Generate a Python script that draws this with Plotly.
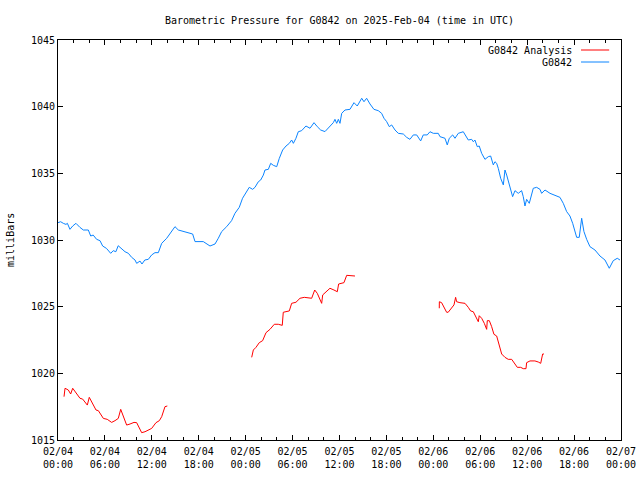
import plotly.graph_objects as go

# Hours since 2025-02-04 00:00 UTC
obs_hours = [0.0, 0.34, 0.68, 1.02, 1.2, 1.53, 1.88, 2.3, 2.8, 3.24, 3.88, 4.18, 4.5, 4.94, 5.37, 5.71,
             6.2, 6.74, 7.07, 7.4, 7.7, 8.14, 8.57, 9.0, 9.42, 9.85, 10.06, 10.49, 10.74, 11.1, 11.55,
             11.98, 12.4, 12.83, 13.26, 13.9, 14.45, 14.96, 15.39, 16.24, 16.88, 17.22, 17.52, 18.58,
             19.44, 20.08, 20.5, 20.93, 21.57, 22.2, 22.63, 23.18, 23.6, 24.04, 24.46, 24.89, 25.19,
             25.62, 25.92, 26.26, 26.47, 26.9, 27.2, 27.54, 27.97, 28.3, 28.73, 29.16, 29.58, 29.88,
             30.1, 30.43, 30.73, 31.16, 31.71, 32.23, 32.74, 33.16, 33.59, 34.14, 34.44, 34.78, 35.21,
             35.42, 35.64, 35.85, 36.06, 36.28, 36.7, 37.34, 37.68, 37.85, 38.27, 38.84, 39.13, 39.47,
             39.9, 40.4, 40.96, 41.39, 41.69, 42.03, 42.37, 42.67, 43.1, 43.52, 44.16, 44.59, 45.01,
             45.44, 45.87, 46.38, 46.71, 47.22, 47.57, 48.0, 48.63, 48.85, 49.49, 49.78, 50.04, 50.47,
             50.77, 51.19, 51.83, 52.05, 52.47, 52.9, 53.11, 53.32, 53.62, 53.87, 54.18, 54.6, 55.03,
             55.33, 55.67, 55.88, 56.1, 56.31, 56.61, 56.95, 57.16, 57.38, 57.8, 58.14, 58.44, 58.86,
             59.29, 59.5, 59.72, 59.93, 60.27, 60.78, 61.21, 61.64, 61.85, 62.28, 62.92, 63.55, 64.19,
             64.62, 65.05, 65.47, 65.82, 66.33, 66.66, 66.97, 67.26, 67.61, 68.03, 68.67, 69.31,
             69.95, 70.5, 71.01, 71.52, 71.87]
obs_mb = [1031.3, 1031.37, 1031.25, 1031.17, 1031.25, 1030.8, 1031.05, 1031.25, 1030.95, 1030.75,
          1030.75, 1030.3, 1030.37, 1030.05, 1029.95, 1029.55, 1029.37, 1029.0, 1029.2, 1029.12,
          1029.57, 1029.37, 1029.12, 1029.0, 1028.7, 1028.5, 1028.25, 1028.42, 1028.2, 1028.5,
          1028.55, 1028.88, 1029.05, 1029.05, 1029.75, 1030.13, 1030.63, 1031.0, 1030.75, 1030.63,
          1030.5, 1030.45, 1029.88, 1029.88, 1029.55, 1029.7, 1030.13, 1030.63, 1031.0, 1031.45,
          1032.0, 1032.45, 1033.13, 1033.5, 1033.95, 1033.8, 1033.95, 1034.37, 1034.5, 1034.87,
          1035.25, 1035.3, 1035.75, 1035.6, 1035.5, 1036.12, 1036.75, 1037.05, 1037.25, 1037.5,
          1037.25, 1037.63, 1038.12, 1038.2, 1038.55, 1038.38, 1038.8, 1038.5, 1038.25, 1038.13,
          1038.3, 1038.55, 1038.8, 1039.05, 1038.75, 1039.05, 1038.75, 1039.5, 1039.75, 1039.8,
          1040.13, 1040.3, 1040.05, 1040.63, 1040.37, 1040.63, 1040.2, 1039.8, 1039.7, 1039.5,
          1039.13, 1038.88, 1038.5, 1038.63, 1038.25, 1038.0, 1037.95, 1037.7, 1037.55, 1037.88,
          1037.88, 1037.43, 1037.88, 1037.88, 1038.12, 1038.0, 1038.0, 1037.75, 1037.63, 1037.13,
          1037.63, 1037.88, 1037.63, 1038.0, 1038.12, 1037.88, 1037.5, 1037.55, 1037.37, 1037.5,
          1037.0, 1037.05, 1036.5, 1036.05, 1036.25, 1036.3, 1035.63, 1035.87, 1035.75, 1035.37,
          1034.63, 1034.13, 1035.25, 1034.87, 1034.0, 1033.25, 1033.7, 1033.5, 1033.7, 1033.25,
          1032.55, 1033.05, 1032.75, 1033.88, 1033.95, 1033.8, 1033.5, 1033.75, 1033.5, 1033.38,
          1033.2, 1032.75, 1032.13, 1031.8, 1031.25, 1030.2, 1030.2, 1031.63, 1030.63, 1030.05,
          1029.5, 1029.25, 1028.8, 1028.5, 1027.88, 1028.45, 1028.63, 1028.5]

ana_hours = [0.77, 0.9, 1.32, 1.62, 1.88, 2.3, 2.81, 3.15, 3.75, 4.0, 4.3, 4.86, 5.16, 5.8, 6.3, 6.86,
             7.29, 7.71, 8.02, 8.27, 8.78, 9.21, 9.72, 10.06, 10.7, 11.13, 11.55, 11.98, 12.53, 12.96,
             13.26, 13.68, 13.98, None,
             24.77, 24.98, 25.32, 25.74, 26.17, 26.6, 27.11, 27.66, 28.17, 28.68, 28.81, 29.58, 29.88,
             30.43, 30.95, 31.5, 32.44, 32.83, 33.16, 33.5, 33.72, 33.85, 34.36, 34.78, 35.29, 35.72,
             35.89, 36.57, 36.92, 37.34, 37.98, None,
             48.76, 48.77, 49.06, 49.36, 49.7, 49.9, 50.34, 50.64, 50.85, 50.98, 51.4, 52.05, 52.47,
             52.77, 53.11, 53.45, 53.75, 53.87, 54.18, 54.52, 54.82, 54.9, 55.16, 55.46, 55.75, 56.1,
             56.31, 56.52, 56.74, 57.16, 57.58, 58.02, 58.44, 58.74, 59.17, 59.5, 59.85, 59.93, 60.36,
             60.99, 61.42, 61.73, 61.98, 62.15]
ana_mb = [1018.25, 1018.88, 1018.75, 1018.45, 1018.88, 1018.55, 1018.13, 1018.07, 1017.62, 1018.2,
          1017.87, 1017.25, 1017.2, 1016.62, 1016.55, 1016.32, 1016.45, 1016.62, 1017.3, 1016.87,
          1016.12, 1016.2, 1016.32, 1016.3, 1015.55, 1015.62, 1015.75, 1015.87, 1016.3, 1016.45,
          1016.75, 1017.5, 1017.55, None,
          1021.2, 1021.75, 1021.95, 1022.3, 1022.45, 1023.05, 1023.3, 1023.68, 1023.68, 1023.6,
          1024.58, 1024.68, 1025.25, 1025.33, 1025.63, 1025.7, 1025.63, 1026.25, 1026.0, 1025.45,
          1025.25, 1025.88, 1026.12, 1026.38, 1026.25, 1026.12, 1026.7, 1026.8, 1027.35, 1027.35,
          1027.3, None,
          1024.88, 1025.37, 1025.3, 1025.0, 1024.58, 1024.58, 1024.88, 1025.13, 1025.7, 1025.37,
          1025.3, 1025.25, 1024.95, 1024.68, 1024.62, 1024.25, 1023.87, 1024.32, 1024.13, 1023.75,
          1023.3, 1023.95, 1023.95, 1023.5, 1022.93, 1022.8, 1022.37, 1021.75, 1021.45, 1021.2,
          1021.05, 1021.05, 1020.75, 1020.45, 1020.45, 1020.35, 1020.35, 1020.8, 1020.93, 1020.93,
          1020.85, 1020.75, 1021.45, 1021.45]

tick_hours = [0, 6, 12, 18, 24, 30, 36, 42, 48, 54, 60, 66, 72]
tick_labels = ["02/04<br>00:00", "02/04<br>06:00", "02/04<br>12:00", "02/04<br>18:00",
               "02/05<br>00:00", "02/05<br>06:00", "02/05<br>12:00", "02/05<br>18:00",
               "02/06<br>00:00", "02/06<br>06:00", "02/06<br>12:00", "02/06<br>18:00",
               "02/07<br>00:00"]
legend_names = ["G0842 Analysis", "G0842"]
RED = "#ff0000"
BLUE = "#0a84ff"
FONT = "DejaVu Sans Mono"

fig = go.Figure()
fig.add_trace(go.Scatter(x=ana_hours, y=ana_mb, mode="lines", name=legend_names[0],
                         line=dict(color=RED, width=1), connectgaps=False))
fig.add_trace(go.Scatter(x=obs_hours, y=obs_mb, mode="lines", name=legend_names[1],
                         line=dict(color=BLUE, width=1)))

axis_common = dict(showline=True, linecolor="black", linewidth=1, mirror="ticks",
                   ticks="inside", tickcolor="black", showgrid=False, zeroline=False,
                   automargin=False,
                   tickfont=dict(family=FONT, size=10, color="black"))

fig.update_xaxes(range=[0, 72], tickmode="array", tickvals=tick_hours, ticktext=tick_labels,
                 ticklen=5, ticklabelstandoff=2,
                 minor=dict(dtick=2, tick0=0, ticks="inside", ticklen=3, tickcolor="black"),
                 **axis_common)
fig.update_yaxes(range=[1015, 1045], tickmode="linear", tick0=1015, dtick=5, ticklen=5,
                 minor=dict(ticks=""), **axis_common)

# legend drawn gnuplot-style (text left of sample line)
leg_y = [0.975, 0.945]
for name, color, yy in zip(legend_names, [RED, BLUE], leg_y):
    fig.add_annotation(x=0.9165, y=yy, xref="paper", yref="paper", text=name, showarrow=False,
                       xanchor="right", yanchor="middle",
                       font=dict(family=FONT, size=10, color="black"))
    fig.add_shape(type="line", xref="paper", yref="paper", x0=0.929, x1=0.979, y0=yy, y1=yy,
                  line=dict(color=color, width=1))

fig.add_annotation(x=-0.0853, y=0.5, xref="paper", yref="paper", text="milliBars",
                   textangle=-90, showarrow=False, xanchor="center", yanchor="middle",
                   font=dict(family=FONT, size=10, color="black"))

fig.update_layout(
    width=640, height=480,
    margin=dict(l=58, r=19, t=40, b=40, autoexpand=False),
    paper_bgcolor="white", plot_bgcolor="white",
    showlegend=False,
    title=dict(text="Barometric Pressure for G0842 on 2025-Feb-04 (time in UTC)",
               x=0.5, xref="paper", y=1 - 20 / 480, yref="container",
               xanchor="center", yanchor="middle",
               font=dict(family=FONT, size=10, color="black")),
)

fig.write_html("out.html")
